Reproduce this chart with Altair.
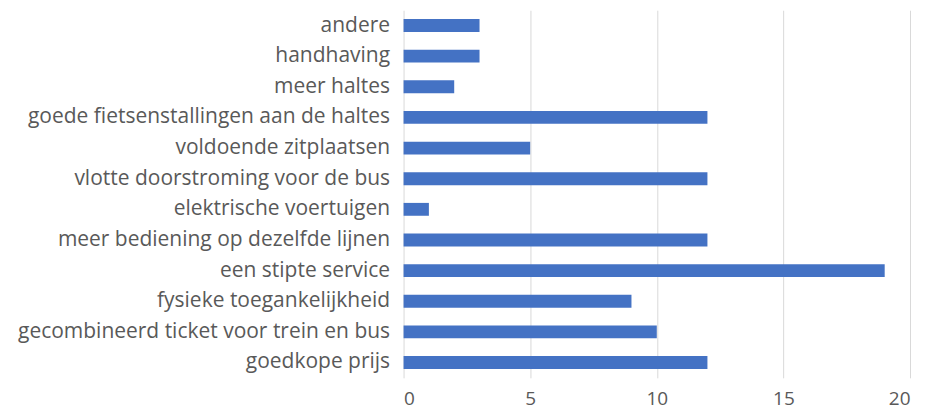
import altair as alt
import pandas as pd

categories = [
    "andere",
    "handhaving",
    "meer haltes",
    "goede fietsenstallingen aan de haltes",
    "voldoende zitplaatsen",
    "vlotte doorstroming voor de bus",
    "elektrische voertuigen",
    "meer bediening op dezelfde lijnen",
    "een stipte service",
    "fysieke toegankelijkheid",
    "gecombineerd ticket voor trein en bus",
    "goedkope prijs",
]
values = [3, 3, 2, 12, 5, 12, 1, 12, 19, 9, 10, 12]
x_ticks = [0, 5, 10, 15, 20]

df = pd.DataFrame({"cat": categories, "val": values})

FONT = "Open Sans"
TXT = "#595959"

chart = (
    alt.Chart(df)
    .mark_bar(color="#4472C4")
    .encode(
        x=alt.X(
            "val:Q",
            scale=alt.Scale(domain=[0, 20], nice=False),
            axis=alt.Axis(
                values=x_ticks,
                title=None,
                grid=True,
                gridColor="#d9d9d9",
                gridWidth=1,
                domain=False,
                ticks=False,
                labelFont=FONT,
                labelFontSize=19,
                labelColor=TXT,
                labelPadding=12,
            ),
        ),
        y=alt.Y(
            "cat:N",
            sort=categories,
            scale=alt.Scale(paddingInner=0.58, paddingOuter=0.29),
            axis=alt.Axis(
                title=None,
                domain=False,
                ticks=False,
                labelFont=FONT,
                labelFontSize=21,
                labelColor=TXT,
                labelPadding=14,
                labelLimit=500,
            ),
        ),
    )
    .properties(
        width=507,
        height=368,
        autosize=alt.AutoSizeParams(type="none"),
        padding={"left": 396, "top": 2, "right": 10, "bottom": 36},
    )
    .configure_view(stroke=None)
)

chart.save("out.html", embed_options={"renderer": "svg", "actions": False})
